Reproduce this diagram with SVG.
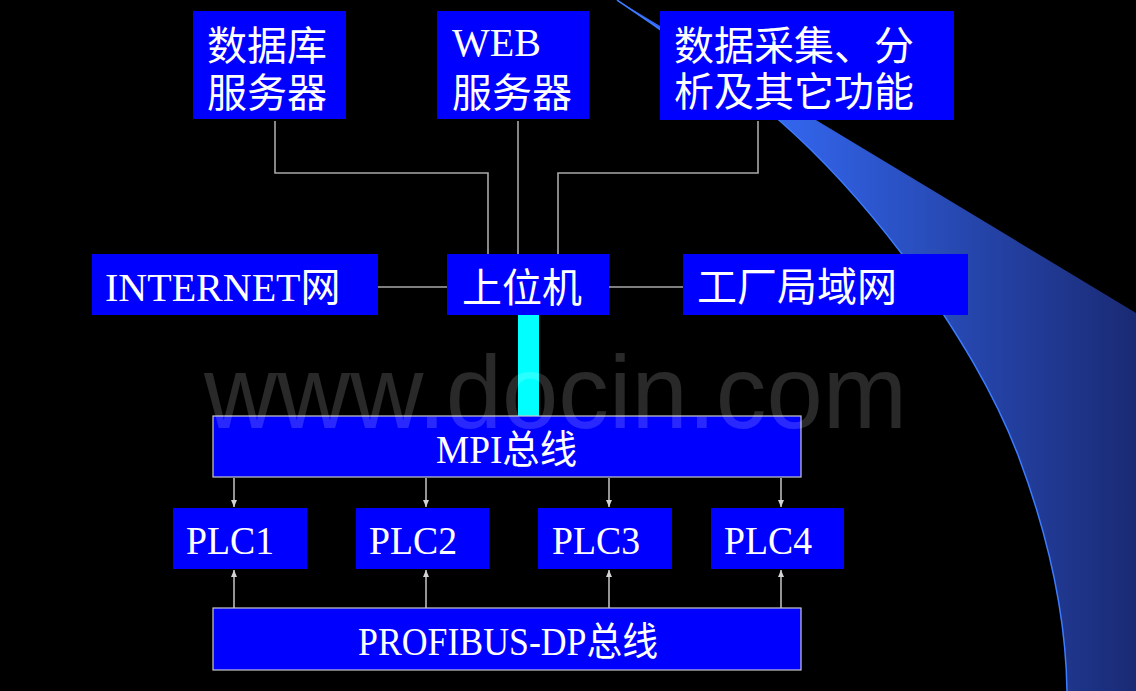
<svg xmlns="http://www.w3.org/2000/svg" width="1136" height="691" viewBox="0 0 1136 691">
<style>
.box{fill:#0000ff}
.bus{fill:#0000ff;stroke:#c8c8c8;stroke-width:1.2}
.t{fill:#ffffff;font-family:"Liberation Serif","Noto Sans CJK SC",serif;font-size:40px}
.bt{fill:#ffffff;font-family:"Liberation Serif","Noto Sans CJK SC",serif;font-size:39px}
.ln{fill:none;stroke:#a8a8a8;stroke-width:1.6}
.ar{fill:none;stroke:#d4d4d4;stroke-width:1.4}
</style>
<defs>
<linearGradient id="wg" x1="780" y1="0" x2="1136" y2="0" gradientUnits="userSpaceOnUse">
<stop offset="0" stop-color="#3366ee"/>
<stop offset="1" stop-color="#1a2a74"/>
</linearGradient>
<marker id="ah" markerWidth="8" markerHeight="8" refX="7" refY="4" orient="auto" markerUnits="userSpaceOnUse">
<path d="M0,1 L7,4 L0,7 Z" fill="#d4d4d4"/>
</marker>
</defs>
<rect x="0" y="0" width="1136" height="691" fill="#000000"/>
<g id="decor">
<path d="M617,0 L1136,313 L1136,691 L1067,691 C1066,620 1050,540 1018,455 C995,395 960,335 902,254 C870,212 830,165 780,121 C730,80 670,35 617,0 Z" fill="url(#wg)"/>
<path d="M1067,691 C1066,620 1050,540 1018,455 C995,395 960,335 902,254 C870,212 830,165 780,121 C730,80 670,35 617,0" fill="none" stroke="#3d7bff" stroke-width="1.5"/>
</g>
<g id="connectors">
<path class="ln" d="M275,121 V173 H488 V254"/>
<path class="ln" d="M518,121 V254"/>
<path class="ln" d="M758,121 V173 H558 V254"/>
<path class="ln" d="M378,287 H447"/>
<path class="ln" d="M609,287 H683"/>
<rect x="518" y="315" width="21" height="101" fill="#00ffff"/>
<path class="ar" d="M234,478 V507" marker-end="url(#ah)"/>
<path class="ar" d="M426,478 V507" marker-end="url(#ah)"/>
<path class="ar" d="M609,478 V507" marker-end="url(#ah)"/>
<path class="ar" d="M781,478 V507" marker-end="url(#ah)"/>
<path class="ar" d="M234,608 V570" marker-end="url(#ah)"/>
<path class="ar" d="M426,608 V570" marker-end="url(#ah)"/>
<path class="ar" d="M609,608 V570" marker-end="url(#ah)"/>
<path class="ar" d="M781,608 V570" marker-end="url(#ah)"/>
</g>
<g id="db">
<rect class="box" x="193" y="11" width="153" height="108"/>
<text class="t" x="207" y="60">数据库</text>
<text class="t" x="207" y="107">服务器</text>
</g>
<g id="web">
<rect class="box" x="437" y="11" width="152" height="108"/>
<text class="t" x="452" y="56">WEB</text>
<text class="t" x="452" y="107">服务器</text>
</g>
<g id="daq">
<rect class="box" x="660" y="11" width="294" height="109"/>
<text class="t" x="674" y="60">数据采集、分</text>
<text class="t" x="674" y="106">析及其它功能</text>
</g>
<g id="internet">
<rect class="box" x="92" y="254" width="286" height="61"/>
<text class="t" x="105" y="301">INTERNET网</text>
</g>
<g id="host">
<rect class="box" x="447" y="254" width="162" height="61"/>
<text class="t" x="462" y="302">上位机</text>
</g>
<g id="lan">
<rect class="box" x="683" y="254" width="285" height="61"/>
<text class="t" x="697" y="301">工厂局域网</text>
</g>
<g id="mpi">
<rect class="bus" x="213" y="416" width="588" height="61"/>
<text class="bt" x="436" y="463" textLength="141" lengthAdjust="spacingAndGlyphs">MPI总线</text>
</g>
<g id="plc1">
<rect class="box" x="173" y="508" width="134" height="61"/>
<text class="t" x="186" y="554" font-size="42" textLength="88" lengthAdjust="spacingAndGlyphs">PLC1</text>
</g>
<g id="plc2">
<rect class="box" x="356" y="508" width="133" height="61"/>
<text class="t" x="369" y="554" font-size="42" textLength="88" lengthAdjust="spacingAndGlyphs">PLC2</text>
</g>
<g id="plc3">
<rect class="box" x="538" y="508" width="134" height="61"/>
<text class="t" x="552" y="554" font-size="42" textLength="88" lengthAdjust="spacingAndGlyphs">PLC3</text>
</g>
<g id="plc4">
<rect class="box" x="711" y="508" width="133" height="61"/>
<text class="t" x="724" y="554" font-size="42" textLength="88" lengthAdjust="spacingAndGlyphs">PLC4</text>
</g>
<g id="profibus">
<rect class="bus" x="213" y="608" width="588" height="62"/>
<text class="bt" x="358" y="655" textLength="300" lengthAdjust="spacingAndGlyphs">PROFIBUS-DP总线</text>
</g>
<text x="204" y="428" font-family="Liberation Sans, Arial, sans-serif" font-size="104" textLength="703" lengthAdjust="spacingAndGlyphs" fill="#ffffff" fill-opacity="0.16">www.docin.com</text>
</svg>
